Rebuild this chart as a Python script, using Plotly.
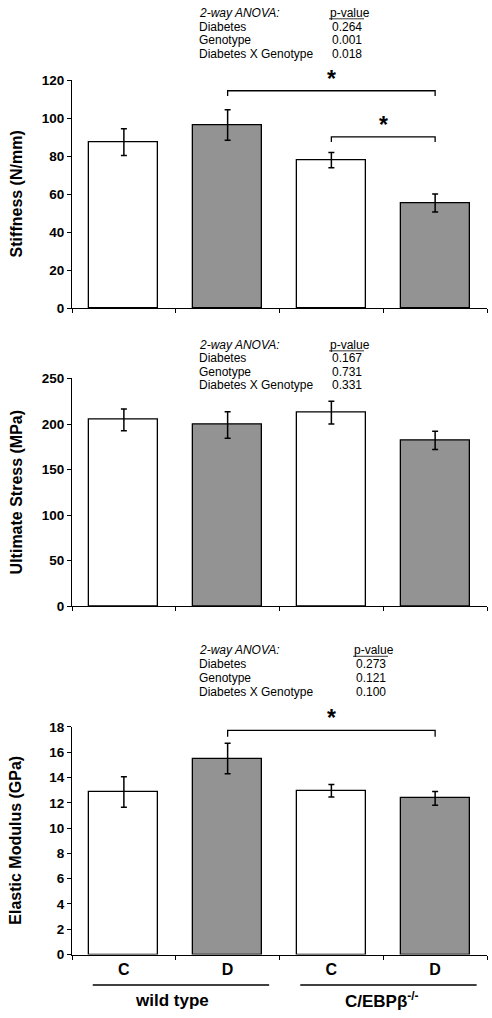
import plotly.graph_objects as go

# ---------------- data ----------------
conditions = ["C", "D", "C", "D"]
x_pos = [1, 2, 3, 4]
group_names = ["wild type", "C/EBPβ<sup>-/-</sup>"]
group_spans = [(0.7, 2.4), (2.7, 4.4)]
group_label_x = [1.46, 3.49]

stiffness = [87.5, 96.5, 78.0, 55.5]
stiffness_err = [7.0, 8.0, 4.0, 4.7]
stress = [204.5, 199.0, 212.5, 182.0]
stress_err = [12.0, 14.5, 12.5, 10.0]
modulus = [12.85, 15.5, 12.95, 12.35]
modulus_err = [1.2, 1.2, 0.5, 0.55]

bar_colors = ["white", "#939393", "white", "#939393"]

anova_terms = ["Diabetes", "Genotype", "Diabetes X Genotype"]
anova_p_stiffness = ["0.264", "0.001", "0.018"]
anova_p_stress = ["0.167", "0.731", "0.331"]
anova_p_modulus = ["0.273", "0.121", "0.100"]

# significance brackets: (from bar, to bar, bracket level, end drop)
sig_stiffness = [(2, 4, 114.5, 2.7), (3, 4, 90.2, 2.6)]
sig_stress = []
sig_modulus = [(2, 4, 17.72, 0.5)]

# ---------------- layout helpers ----------------
W, H = 492, 1018
FONT = "Liberation Sans, Arial, sans-serif"


def px(x):
    return x / W


def py(y):
    return 1 - y / H


panels = [
    dict(vals=stiffness, errs=stiffness_err, ymax=120, dtick=20,
         ytop=74.4, ybot=306.0, title="Stiffness (N/mm)", sig=sig_stiffness,
         p=anova_p_stiffness, rows=[6, 20, 34, 48], pcol=328),
    dict(vals=stress, errs=stress_err, ymax=250, dtick=50,
         ytop=377.0, ybot=608.3, title="Ultimate Stress (MPa)", sig=sig_stress,
         p=anova_p_stress, rows=[343, 356.5, 370, 383.5], pcol=328),
    dict(vals=modulus, errs=modulus_err, ymax=18, dtick=2,
         ytop=730.7, ybot=961.7, title="Elastic Modulus (GPa)", sig=sig_modulus,
         p=anova_p_modulus, rows=[653, 667, 681, 695], pcol=352),
]

fig = go.Figure()
shapes = []
annotations = []
boundaries = [0.5, 1.5, 2.5, 3.5, 4.5]

for i, pnl in enumerate(panels):
    n = "" if i == 0 else str(i + 1)
    xa, ya = "x" + n, "y" + n
    fig.add_trace(go.Bar(
        x=x_pos, y=pnl["vals"], width=0.667,
        marker=dict(color=bar_colors, line=dict(color="black", width=1.3)),
        error_y=dict(type="data", array=pnl["errs"], color="black",
                     thickness=1.5, width=3),
        xaxis=xa, yaxis=ya, showlegend=False, hoverinfo="y",
    ))
    fig.update_layout(**{
        "xaxis" + n: dict(
            domain=[px(72), px(487)], anchor=ya, range=[0.5, 4.5],
            showline=True, linecolor="black", linewidth=1,
            tickmode="array", tickvals=x_pos, ticktext=conditions, ticks="",
            showticklabels=(i == 2),
            tickfont=dict(family=FONT, size=16, color="black", weight="bold"),
            minor=dict(tickmode="array", tickvals=boundaries, ticks="outside",
                       ticklen=4, tickcolor="black", tickwidth=1),
            showgrid=False, zeroline=False, fixedrange=True,
        ),
        "yaxis" + n: dict(
            domain=[py(pnl["ybot"]), py(pnl["ytop"])], anchor=xa,
            range=[0, pnl["ymax"]], dtick=pnl["dtick"],
            showline=True, linecolor="black", linewidth=1,
            ticks="outside", ticklen=4, tickcolor="black",
            tickfont=dict(family=FONT, size=13.5, color="black", weight="bold"),
            showgrid=False, zeroline=False, fixedrange=True,
        ),
    })
    # y title
    annotations.append(dict(
        x=px(16), y=py((pnl["ytop"] + pnl["ybot"]) / 2), xref="paper", yref="paper",
        text="<b>%s</b>" % pnl["title"], textangle=-90, showarrow=False,
        font=dict(family=FONT, size=16, color="black"),
        xanchor="center", yanchor="middle",
    ))
    # ANOVA table
    rows = pnl["rows"]
    annotations.append(dict(
        x=px(197), y=py(rows[0]), xref="paper", yref="paper",
        text="<i>2-way ANOVA:</i>", showarrow=False, xanchor="left", yanchor="middle",
        font=dict(family=FONT, size=12, color="black")))
    annotations.append(dict(
        x=px(pnl["pcol"]), y=py(rows[0]), xref="paper", yref="paper",
        text="p-value", showarrow=False, xanchor="left", yanchor="middle",
        font=dict(family=FONT, size=12, color="black")))
    shapes.append(dict(type="line", xref="paper", yref="paper",
                       x0=px(pnl["pcol"] + 1), x1=px(pnl["pcol"] + 36),
                       y0=py(rows[0] + 6), y1=py(rows[0] + 6),
                       line=dict(color="black", width=0.8)))
    for term, pv, r in zip(anova_terms, pnl["p"], rows[1:]):
        annotations.append(dict(
            x=px(197), y=py(r), xref="paper", yref="paper", text=term,
            showarrow=False, xanchor="left", yanchor="middle",
            font=dict(family=FONT, size=12, color="black")))
        annotations.append(dict(
            x=px(pnl["pcol"] + 2), y=py(r), xref="paper", yref="paper", text=pv,
            showarrow=False, xanchor="left", yanchor="middle",
            font=dict(family=FONT, size=12, color="black")))
    # significance brackets
    for (a, b, lev, drop) in pnl["sig"]:
        shapes.append(dict(
            type="path", xref=xa, yref=ya,
            path="M %s,%s L %s,%s L %s,%s L %s,%s" % (a, lev - drop, a, lev, b, lev, b, lev - drop),
            line=dict(color="black", width=1.3)))
        annotations.append(dict(
            x=(a + b) / 2, y=lev, xref=xa, yref=ya, text="<b>*</b>",
            showarrow=False, xanchor="center", yanchor="bottom", yshift=-3,
            font=dict(family=FONT, size=23, color="black")))

# group labels under the bottom panel
for name, (g0, g1), gx in zip(group_names, group_spans, group_label_x):
    shapes.append(dict(type="line", xref="x3", yref="paper",
                       x0=g0, x1=g1, y0=py(992.7), y1=py(992.7),
                       line=dict(color="black", width=1.5)))
    annotations.append(dict(
        x=gx, y=py(1008), xref="x3", yref="paper", text="<b>%s</b>" % name,
        showarrow=False, xanchor="center", yanchor="middle",
        font=dict(family=FONT, size=17, color="black")))

fig.update_layout(
    width=W, height=H, margin=dict(l=0, r=0, t=0, b=0),
    paper_bgcolor="white", plot_bgcolor="white",
    shapes=shapes, annotations=annotations, bargap=0,
    font=dict(family=FONT, color="black"),
)

fig.write_html(
    "out.html",
    config={"displayModeBar": False},
    post_script="document.body.style.margin='0';document.body.style.overflow='hidden';",
)
